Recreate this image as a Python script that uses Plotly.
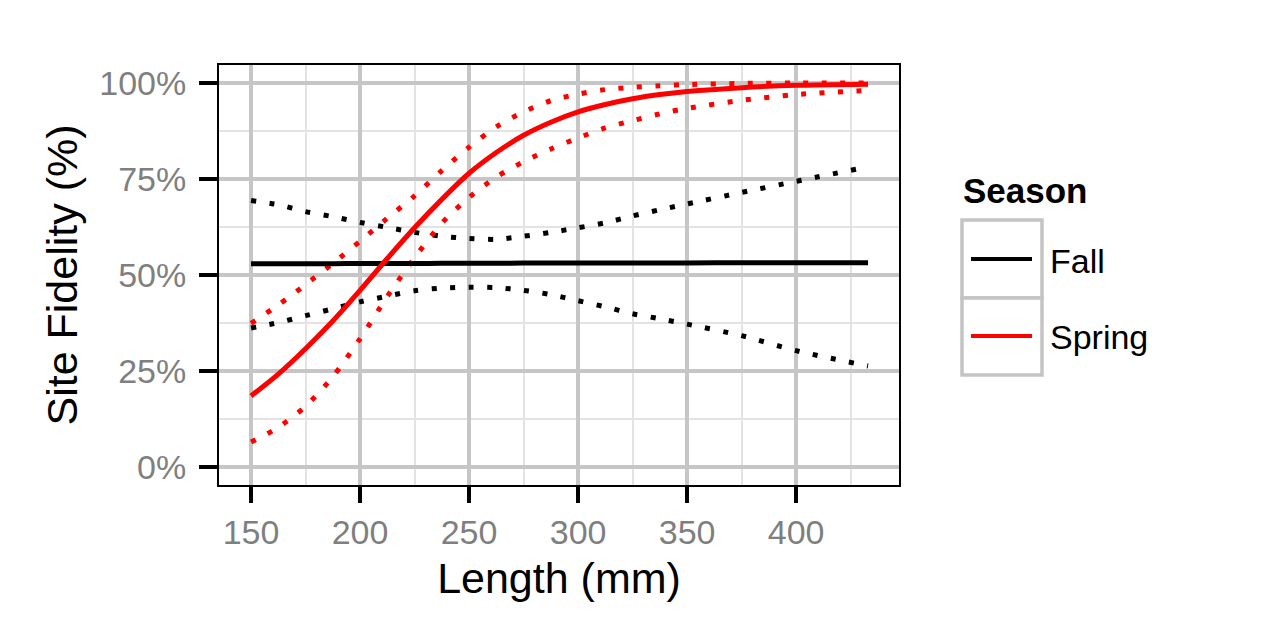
import plotly.graph_objects as go

# ---------------- data ----------------
length_mm = [150, 162.5, 175, 187.5, 200, 212.5, 225, 237.5, 250, 262.5,
             275, 287.5, 300, 312.5, 325, 337.5, 350, 375, 400, 433]

fall_fit = [52.9, 52.9, 52.95, 52.95, 53.0, 53.0, 53.0, 53.05, 53.05, 53.05,
            53.1, 53.1, 53.1, 53.1, 53.15, 53.15, 53.15, 53.2, 53.2, 53.2]
fall_upper = [69.4, 68.3, 66.5, 65.2, 63.7, 62.4, 61.1, 60.1, 59.5, 59.3,
              60.1, 61.1, 62.3, 63.6, 65.4, 67.0, 68.5, 71.5, 74.4, 78.2]
fall_lower = [36.2, 37.6, 39.4, 41.2, 43.0, 44.5, 45.9, 46.6, 46.8, 46.7,
              46.0, 44.9, 43.3, 41.7, 39.9, 38.6, 37.2, 34.2, 30.3, 26.3]

spring_fit = [18.5, 24.2, 30.8, 38.0, 46.0, 54.3, 62.3, 69.7, 76.5, 81.9,
              86.4, 89.8, 92.5, 94.4, 95.9, 97.0, 97.8, 98.8, 99.4, 99.7]
spring_upper = [37.4, 42.2, 47.5, 53.0, 58.8, 64.8, 70.6, 77.2, 83.3, 88.6,
                92.5, 95.4, 97.1, 98.3, 98.9, 99.3, 99.6, 99.9, 100.0, 100.0]
spring_lower = [6.5, 10.3, 15.8, 23.5, 33.4, 44.4, 54.5, 63.5, 70.2, 75.5,
                79.5, 82.8, 85.7, 88.3, 90.2, 92.0, 93.4, 95.5, 97.0, 98.1]

x_ticks = [150, 200, 250, 300, 350, 400]
x_minor = [175, 225, 275, 325, 375, 425]
y_ticks = [0, 25, 50, 75, 100]
y_minor = [12.5, 37.5, 62.5, 87.5]
y_tick_labels = ["0%", "25%", "50%", "75%", "100%"]

seasons = ["Fall", "Spring"]
season_colors = ["#000000", "#FF0000"]

FONT = "Liberation Sans, Arial, Helvetica, sans-serif"
DOT = "5px,13.5px"

fig = go.Figure()

series = [
    (fall_lower, season_colors[0], DOT, 5),
    (fall_upper, season_colors[0], DOT, 5),
    (spring_lower, season_colors[1], DOT, 5),
    (spring_upper, season_colors[1], DOT, 5),
    (fall_fit, season_colors[0], "solid", 5),
    (spring_fit, season_colors[1], "solid", 5),
]
for ys, col, dash, w in series:
    fig.add_trace(go.Scatter(
        x=length_mm, y=ys, mode="lines",
        line=dict(color=col, width=w, dash=dash, shape="spline", smoothing=0.8),
        showlegend=False, hoverinfo="skip"))

# ---------------- manual ggplot-style legend ----------------
L, R, T, B = 219, 899, 65, 485
W, H = R - L, B - T
px = lambda v: (v - L) / W
py = lambda v: (B - v) / H

shapes = []
key_top = [220, 298]
key_bot = [298, 375]
for kt, kb in zip(key_top, key_bot):
    shapes.append(dict(type="rect", xref="paper", yref="paper",
                       x0=px(962), x1=px(1042), y0=py(kb), y1=py(kt),
                       line=dict(color="#c4c4c4", width=3.5), fillcolor="white",
                       layer="above"))
key_line_y = [259, 336]
for yy, col in zip(key_line_y, season_colors):
    shapes.append(dict(type="line", xref="paper", yref="paper",
                       x0=px(971), x1=px(1032), y0=py(yy), y1=py(yy),
                       line=dict(color=col, width=4), layer="above"))

annotations = [
    dict(text="<b>Season</b>", xref="paper", yref="paper", x=px(961), y=py(190),
         xanchor="left", yanchor="middle", showarrow=False,
         font=dict(family=FONT, size=35, color="black")),
]
label_y = [261, 337]
for name, yy in zip(seasons, label_y):
    annotations.append(dict(text=name, xref="paper", yref="paper", x=px(1048), y=py(yy),
                            xanchor="left", yanchor="middle", showarrow=False,
                            font=dict(family=FONT, size=34, color="black")))

fig.update_layout(
    width=1280, height=640,
    margin=dict(l=L, r=1280 - R, t=T, b=640 - B),
    paper_bgcolor="white", plot_bgcolor="white",
    font=dict(family=FONT, color="black"),
    shapes=shapes, annotations=annotations,
    showlegend=False,
)

fig.update_xaxes(
    range=[135.3, 447.2], tickvals=x_ticks,
    ticks="outside", ticklen=16, tickwidth=3.5, tickcolor="black",
    tickfont=dict(family=FONT, size=34, color="#7f7f7f"),
    showgrid=True, gridcolor="#c6c6c6", gridwidth=4,
    minor=dict(tickvals=x_minor, showgrid=True,
               gridcolor="#e3e3e3", gridwidth=2, ticks=""),
    showline=True, linecolor="black", linewidth=2, mirror=True,
    zeroline=False,
    title=dict(text="Length (mm)", font=dict(family=FONT, size=43, color="black"), standoff=13),
)
fig.update_yaxes(
    range=[-4.7, 104.7], tickvals=y_ticks, ticktext=y_tick_labels,
    ticks="outside", ticklen=18, tickwidth=3.5, tickcolor="black",
    tickfont=dict(family=FONT, size=34, color="#7f7f7f"),
    ticklabelstandoff=6,
    showgrid=True, gridcolor="#c6c6c6", gridwidth=4,
    minor=dict(tickvals=y_minor, showgrid=True,
               gridcolor="#e3e3e3", gridwidth=2, ticks=""),
    showline=True, linecolor="black", linewidth=2, mirror=True,
    zeroline=False,
    title=dict(text="Site Fidelity (%)", font=dict(family=FONT, size=43, color="black"), standoff=8),
)

fig.write_html("out.html")
